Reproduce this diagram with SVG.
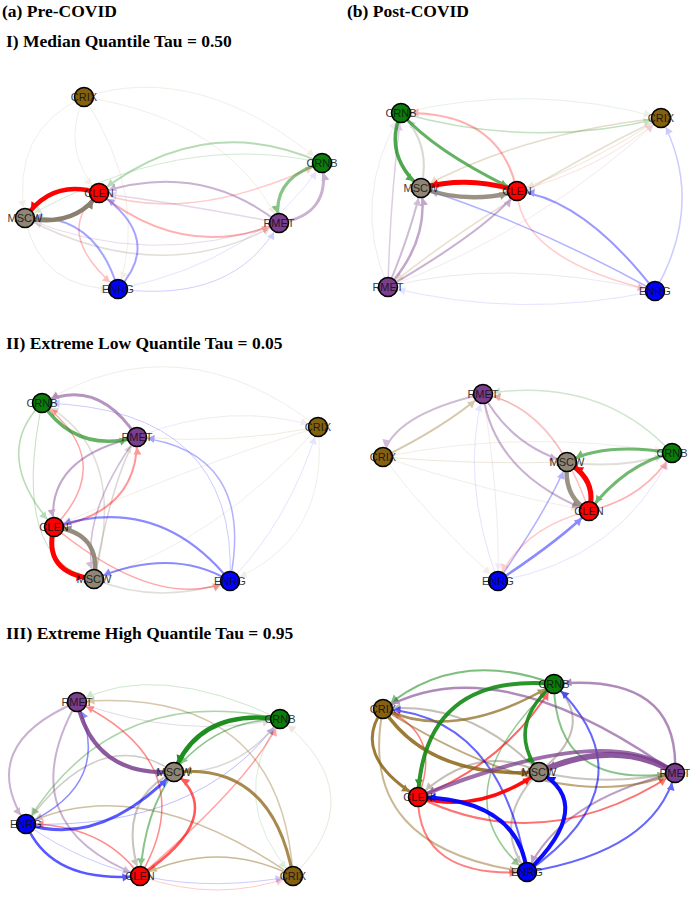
<svg xmlns="http://www.w3.org/2000/svg" width="690" height="897" viewBox="0 0 690 897">
<style>
.hd{font-family:"Liberation Serif","Times New Roman",serif;font-weight:bold;font-size:17.5px;fill:#000}
.lbl{font-family:"Liberation Sans",Arial,sans-serif;font-size:11px;text-anchor:middle;fill:#111;opacity:.85}
.n{stroke:#000;stroke-width:1.6}
.crix{fill:#85600f}.crnb{fill:#0b7d0b}.clen{fill:#ff0000}.mscw{fill:#8f8675}.rmet{fill:#7b3e8e}.enrg{fill:#0000ff}
.r,.g,.c,.m,.p,.b{fill:none}
.r{stroke:#ff0000;marker-end:url(#aR)}
.g{stroke:#138a13;marker-end:url(#aG)}
.c{stroke:#8b6414;marker-end:url(#aC)}
.m{stroke:#8a8070;marker-end:url(#aM)}
.p{stroke:#7b3e8e;marker-end:url(#aP)}
.b{stroke:#0000ff;marker-end:url(#aB)}
</style>
<defs>
<marker id="aR" markerUnits="userSpaceOnUse" markerWidth="12" markerHeight="12" refX="10.5" refY="0" orient="auto" overflow="visible"><path d="M-7,-4 L0,0 L-7,4 Z" fill="#ff0000"/></marker>
<marker id="aG" markerUnits="userSpaceOnUse" markerWidth="12" markerHeight="12" refX="10.5" refY="0" orient="auto" overflow="visible"><path d="M-7,-4 L0,0 L-7,4 Z" fill="#138a13"/></marker>
<marker id="aC" markerUnits="userSpaceOnUse" markerWidth="12" markerHeight="12" refX="10.5" refY="0" orient="auto" overflow="visible"><path d="M-7,-4 L0,0 L-7,4 Z" fill="#8b6414"/></marker>
<marker id="aM" markerUnits="userSpaceOnUse" markerWidth="12" markerHeight="12" refX="10.5" refY="0" orient="auto" overflow="visible"><path d="M-7,-4 L0,0 L-7,4 Z" fill="#8a8070"/></marker>
<marker id="aP" markerUnits="userSpaceOnUse" markerWidth="12" markerHeight="12" refX="10.5" refY="0" orient="auto" overflow="visible"><path d="M-7,-4 L0,0 L-7,4 Z" fill="#7b3e8e"/></marker>
<marker id="aB" markerUnits="userSpaceOnUse" markerWidth="12" markerHeight="12" refX="10.5" refY="0" orient="auto" overflow="visible"><path d="M-7,-4 L0,0 L-7,4 Z" fill="#0000ff"/></marker>
</defs>
<rect width="690" height="897" fill="#fff"/>

<g id="headers">
<text class="hd" x="2" y="17">(a) Pre-COVID</text>
<text class="hd" x="347" y="17">(b) Post-COVID</text>
<text class="hd" x="6" y="47">I) Median Quantile Tau = 0.50</text>
<text class="hd" x="6" y="349">II) Extreme Low Quantile Tau = 0.05</text>
<text class="hd" x="6" y="639">III) Extreme High Quantile Tau = 0.95</text>
</g>

<!-- Panel a-I -->
<g id="aI-edges">
<path class="c" d="M84,97 Q10,130 25,218" stroke-width="1" opacity="0.1"/>
<path class="c" d="M84,97 Q200,60 322,163" stroke-width="1" opacity="0.1"/>
<path class="c" d="M84,97 Q230,120 279,223" stroke-width="1" opacity="0.1"/>
<path class="c" d="M84,97 Q150,200 118,289" stroke-width="1" opacity="0.1"/>
<path class="c" d="M84,97 Q60,150 99,193" stroke-width="1" opacity="0.1"/>
<path class="b" d="M118,289 Q260,260 322,163" stroke-width="1" opacity="0.1"/>
<path class="m" d="M25,218 Q40,290 118,289" stroke-width="1" opacity="0.15"/>
<path class="b" d="M118,289 Q235,304 279,223" stroke-width="1" opacity="0.18"/>
<path class="p" d="M279,223 Q150,270 25,218" stroke-width="1" opacity="0.18"/>
<path class="m" d="M25,218 Q162,290 279,223" stroke-width="1.5" opacity="0.25"/>
<path class="r" d="M99,193 Q51,233 118,289" stroke-width="1.5" opacity="0.25"/>
<path class="r" d="M99,193 Q190,225 322,163" stroke-width="1.5" opacity="0.2"/>
<path class="r" d="M99,193 Q185,262 279,223" stroke-width="2" opacity="0.3"/>
<path class="g" d="M322,163 Q180,130 25,218" stroke-width="1" opacity="0.18"/>
<path class="g" d="M322,163 Q205,110 99,193" stroke-width="2" opacity="0.3"/>
<path class="p" d="M279,223 Q190,205 99,193" stroke-width="1.5" opacity="0.2"/>
<path class="p" d="M279,223 Q200,160 99,193" stroke-width="2" opacity="0.4"/>
<path class="b" d="M118,289 Q95,212 25,218" stroke-width="2" opacity="0.35"/>
<path class="b" d="M118,289 Q165,239 99,193" stroke-width="2" opacity="0.35"/>
<path class="g" d="M322,163 Q270,178 279,223" stroke-width="3" opacity="0.5"/>
<path class="p" d="M279,223 Q332,215 322,163" stroke-width="3" opacity="0.4"/>
<path class="m" d="M25,218 Q75,228 99,193" stroke-width="4.5" opacity="1"/>
<path class="r" d="M99,193 Q52,178 25,218" stroke-width="4.5" opacity="1"/>
</g>
<g id="aI-CRIX" transform="translate(84,97)"><circle class="n crix" r="9.5"/><text class="lbl" y="3.9">CRIX</text></g>
<g id="aI-CRNB" transform="translate(322,163)"><circle class="n crnb" r="9.5"/><text class="lbl" y="3.9">CRNB</text></g>
<g id="aI-CLEN" transform="translate(99,193)"><circle class="n clen" r="9.5"/><text class="lbl" y="3.9">CLEN</text></g>
<g id="aI-MSCW" transform="translate(25,218)"><circle class="n mscw" r="9.5"/><text class="lbl" y="3.9">MSCW</text></g>
<g id="aI-RMET" transform="translate(279,223)"><circle class="n rmet" r="9.5"/><text class="lbl" y="3.9">RMET</text></g>
<g id="aI-ENRG" transform="translate(118,289)"><circle class="n enrg" r="9.5"/><text class="lbl" y="3.9">ENRG</text></g>

<!-- Panel b-I -->
<g id="bI-edges">
<path class="g" d="M401,113 Q532,82 661,118" stroke-width="1" opacity="0.1"/>
<path class="p" d="M388,287 Q350,200 401,113" stroke-width="1" opacity="0.1"/>
<path class="b" d="M655,291 Q520,320 388,287" stroke-width="1" opacity="0.1"/>
<path class="p" d="M388,287 Q502,257 655,291" stroke-width="1" opacity="0.12"/>
<path class="p" d="M388,287 Q540,230 661,118" stroke-width="1" opacity="0.1"/>
<path class="r" d="M517,191 Q600,170 661,118" stroke-width="1" opacity="0.12"/>
<path class="c" d="M661,118 Q587,166 517,191" stroke-width="1" opacity="0.15"/>
<path class="c" d="M661,118 Q499,197 388,287" stroke-width="1.5" opacity="0.2"/>
<path class="c" d="M661,118 Q523,133 421,188" stroke-width="1.5" opacity="0.22"/>
<path class="b" d="M655,291 Q706,202 661,118" stroke-width="1.5" opacity="0.2"/>
<path class="g" d="M401,113 Q533,150 661,118" stroke-width="1.5" opacity="0.25"/>
<path class="r" d="M517,191 Q520,260 655,291" stroke-width="1.5" opacity="0.2"/>
<path class="b" d="M655,291 Q538,226 421,188" stroke-width="1.5" opacity="0.3"/>
<path class="b" d="M655,291 Q584,199 517,191" stroke-width="2" opacity="0.4"/>
<path class="p" d="M388,287 Q491,227 517,191" stroke-width="2" opacity="0.4"/>
<path class="p" d="M388,287 Q390,200 401,113" stroke-width="1.5" opacity="0.25"/>
<path class="m" d="M421,188 Q432,145 401,113" stroke-width="2" opacity="0.3"/>
<path class="p" d="M388,287 Q410,235 421,188" stroke-width="2" opacity="0.35"/>
<path class="p" d="M388,287 Q430,240 421,188" stroke-width="2.5" opacity="0.45"/>
<path class="r" d="M517,191 Q500,110 401,113" stroke-width="2" opacity="0.3"/>
<path class="g" d="M401,113 Q435,152 517,191" stroke-width="3" opacity="0.65"/>
<path class="g" d="M401,113 Q383,155 421,188" stroke-width="3.5" opacity="0.75"/>
<path class="m" d="M421,188 Q469,205 517,191" stroke-width="4.5" opacity="0.85"/>
<path class="r" d="M517,191 Q470,175 421,188" stroke-width="5" opacity="1"/>
</g>
<g id="bI-CRNB" transform="translate(401,113)"><circle class="n crnb" r="9.5"/><text class="lbl" y="3.9">CRNB</text></g>
<g id="bI-CRIX" transform="translate(661,118)"><circle class="n crix" r="9.5"/><text class="lbl" y="3.9">CRIX</text></g>
<g id="bI-MSCW" transform="translate(421,188)"><circle class="n mscw" r="9.5"/><text class="lbl" y="3.9">MSCW</text></g>
<g id="bI-CLEN" transform="translate(517,191)"><circle class="n clen" r="9.5"/><text class="lbl" y="3.9">CLEN</text></g>
<g id="bI-RMET" transform="translate(388,287)"><circle class="n rmet" r="9.5"/><text class="lbl" y="3.9">RMET</text></g>
<g id="bI-ENRG" transform="translate(655,291)"><circle class="n enrg" r="9.5"/><text class="lbl" y="3.9">ENRG</text></g>

<!-- Panel a-II -->
<g id="aII-edges">
<path class="c" d="M318,427 Q180,320 42,403" stroke-width="1" opacity="0.1"/>
<path class="c" d="M318,427 Q228,445 137,437" stroke-width="1" opacity="0.12"/>
<path class="c" d="M318,427 Q180,470 54,527" stroke-width="1" opacity="0.1"/>
<path class="c" d="M318,427 Q220,540 94,579" stroke-width="1" opacity="0.1"/>
<path class="c" d="M318,427 Q330,540 230,581" stroke-width="1" opacity="0.1"/>
<path class="b" d="M230,581 Q290,520 318,427" stroke-width="1" opacity="0.1"/>
<path class="p" d="M137,437 Q230,400 318,427" stroke-width="1" opacity="0.1"/>
<path class="b" d="M230,581 Q238,408 42,403" stroke-width="1" opacity="0.2"/>
<path class="b" d="M230,581 Q256,451 137,437" stroke-width="1.5" opacity="0.3"/>
<path class="m" d="M94,579 Q158,606 230,581" stroke-width="1.5" opacity="0.25"/>
<path class="r" d="M54,527 Q158,612 230,581" stroke-width="1.5" opacity="0.35"/>
<path class="m" d="M94,579 Q130,450 42,403" stroke-width="1.5" opacity="0.25"/>
<path class="m" d="M94,579 Q114,472 137,437" stroke-width="1.5" opacity="0.3"/>
<path class="g" d="M42,403 Q10,560 94,579" stroke-width="1" opacity="0.25"/>
<path class="g" d="M42,403 Q-10,455 54,527" stroke-width="1.5" opacity="0.3"/>
<path class="p" d="M137,437 Q78,518 94,579" stroke-width="1.5" opacity="0.35"/>
<path class="r" d="M54,527 Q118,461 42,403" stroke-width="1.5" opacity="0.35"/>
<path class="r" d="M54,527 Q139,512 137,437" stroke-width="2" opacity="0.4"/>
<path class="p" d="M137,437 Q44,458 54,527" stroke-width="2" opacity="0.45"/>
<path class="b" d="M230,581 Q158,492 54,527" stroke-width="2" opacity="0.45"/>
<path class="b" d="M230,581 Q172,546 94,579" stroke-width="2" opacity="0.45"/>
<path class="p" d="M137,437 Q97,376 42,403" stroke-width="3" opacity="0.55"/>
<path class="g" d="M42,403 Q76,454 137,437" stroke-width="3.5" opacity="0.65"/>
<path class="m" d="M94,579 Q102,533 54,527" stroke-width="4.5" opacity="0.9"/>
<path class="r" d="M54,527 Q42,573 94,579" stroke-width="5" opacity="1"/>
</g>
<g id="aII-CRNB" transform="translate(42,403)"><circle class="n crnb" r="9.5"/><text class="lbl" y="3.9">CRNB</text></g>
<g id="aII-RMET" transform="translate(137,437)"><circle class="n rmet" r="9.5"/><text class="lbl" y="3.9">RMET</text></g>
<g id="aII-CRIX" transform="translate(318,427)"><circle class="n crix" r="9.5"/><text class="lbl" y="3.9">CRIX</text></g>
<g id="aII-CLEN" transform="translate(54,527)"><circle class="n clen" r="9.5"/><text class="lbl" y="3.9">CLEN</text></g>
<g id="aII-MSCW" transform="translate(94,579)"><circle class="n mscw" r="9.5"/><text class="lbl" y="3.9">MSCW</text></g>
<g id="aII-ENRG" transform="translate(230,581)"><circle class="n enrg" r="9.5"/><text class="lbl" y="3.9">ENRG</text></g>

<!-- Panel b-II -->
<g id="bII-edges">
<path class="c" d="M383,457 Q527,428 672,453" stroke-width="1" opacity="0.1"/>
<path class="c" d="M383,457 Q480,490 589,511" stroke-width="1" opacity="0.1"/>
<path class="c" d="M383,457 Q430,520 498,581" stroke-width="1" opacity="0.1"/>
<path class="b" d="M498,581 Q620,560 672,453" stroke-width="1" opacity="0.1"/>
<path class="b" d="M498,581 Q460,480 483,394" stroke-width="1" opacity="0.1"/>
<path class="p" d="M483,394 Q500,500 498,581" stroke-width="1" opacity="0.1"/>
<path class="c" d="M383,457 Q478,465 567,462" stroke-width="1" opacity="0.15"/>
<path class="g" d="M672,453 Q600,375 483,394" stroke-width="1.5" opacity="0.2"/>
<path class="m" d="M567,462 Q540,405 483,394" stroke-width="1" opacity="0.2"/>
<path class="r" d="M589,511 Q554,408 483,394" stroke-width="1.5" opacity="0.25"/>
<path class="r" d="M589,511 Q521,528 498,581" stroke-width="1.5" opacity="0.2"/>
<path class="b" d="M498,581 Q551,504 567,462" stroke-width="1.5" opacity="0.3"/>
<path class="m" d="M567,462 Q620,470 672,453" stroke-width="2" opacity="0.25"/>
<path class="r" d="M589,511 Q645,498 672,453" stroke-width="1.5" opacity="0.3"/>
<path class="p" d="M483,394 Q391,415 383,457" stroke-width="2" opacity="0.35"/>
<path class="c" d="M383,457 Q443,428 483,394" stroke-width="2" opacity="0.35"/>
<path class="p" d="M483,394 Q511,446 567,462" stroke-width="2" opacity="0.4"/>
<path class="p" d="M483,394 Q494,474 589,511" stroke-width="2" opacity="0.4"/>
<path class="b" d="M498,581 Q560,540 589,511" stroke-width="2.5" opacity="0.45"/>
<path class="g" d="M672,453 Q605,442 567,462" stroke-width="3" opacity="0.6"/>
<path class="g" d="M672,453 Q625,464 589,511" stroke-width="3" opacity="0.6"/>
<path class="m" d="M567,462 Q563,497 589,511" stroke-width="4.5" opacity="0.85"/>
<path class="r" d="M589,511 Q598,480 567,462" stroke-width="5" opacity="1"/>
</g>
<g id="bII-RMET" transform="translate(483,394)"><circle class="n rmet" r="9.5"/><text class="lbl" y="3.9">RMET</text></g>
<g id="bII-CRIX" transform="translate(383,457)"><circle class="n crix" r="9.5"/><text class="lbl" y="3.9">CRIX</text></g>
<g id="bII-MSCW" transform="translate(567,462)"><circle class="n mscw" r="9.5"/><text class="lbl" y="3.9">MSCW</text></g>
<g id="bII-CRNB" transform="translate(672,453)"><circle class="n crnb" r="9.5"/><text class="lbl" y="3.9">CRNB</text></g>
<g id="bII-CLEN" transform="translate(589,511)"><circle class="n clen" r="9.5"/><text class="lbl" y="3.9">CLEN</text></g>
<g id="bII-ENRG" transform="translate(498,581)"><circle class="n enrg" r="9.5"/><text class="lbl" y="3.9">ENRG</text></g>

<!-- Panel a-III -->
<g id="aIII-edges">
<path class="c" d="M293,876 Q375,795 280,719" stroke-width="1" opacity="0.15"/>
<path class="g" d="M280,719 Q225,800 293,876" stroke-width="1" opacity="0.15"/>
<path class="r" d="M140,876 Q217,904 293,876" stroke-width="1" opacity="0.2"/>
<path class="b" d="M26,824 Q140,905 293,876" stroke-width="1" opacity="0.2"/>
<path class="g" d="M280,719 Q155,660 77,702" stroke-width="1" opacity="0.2"/>
<path class="p" d="M77,702 Q180,740 280,719" stroke-width="1" opacity="0.2"/>
<path class="b" d="M26,824 Q200,830 280,719" stroke-width="1" opacity="0.25"/>
<path class="m" d="M174,772 Q239,775 280,719" stroke-width="1.5" opacity="0.3"/>
<path class="c" d="M293,876 Q281,685 77,702" stroke-width="1.5" opacity="0.35"/>
<path class="c" d="M293,876 Q140,770 26,824" stroke-width="1.5" opacity="0.4"/>
<path class="c" d="M293,876 Q217,838 140,876" stroke-width="1.5" opacity="0.45"/>
<path class="m" d="M174,772 Q100,722 26,824" stroke-width="1.5" opacity="0.4"/>
<path class="g" d="M280,719 Q113,682 26,824" stroke-width="1.5" opacity="0.35"/>
<path class="r" d="M140,876 Q256,776 280,719" stroke-width="1.5" opacity="0.35"/>
<path class="r" d="M140,876 Q103,824 26,824" stroke-width="1.5" opacity="0.45"/>
<path class="r" d="M140,876 Q205,765 77,702" stroke-width="1.5" opacity="0.45"/>
<path class="b" d="M26,824 Q115,783 77,702" stroke-width="1.5" opacity="0.45"/>
<path class="p" d="M77,702 Q8,825 140,876" stroke-width="2" opacity="0.4"/>
<path class="p" d="M77,702 Q-25,745 26,824" stroke-width="2" opacity="0.4"/>
<path class="m" d="M174,772 Q115,800 140,876" stroke-width="2" opacity="0.45"/>
<path class="g" d="M174,772 Q145,810 140,876" stroke-width="2" opacity="0.5"/>
<path class="b" d="M26,824 Q51,884 140,876" stroke-width="2.5" opacity="0.65"/>
<path class="r" d="M140,876 Q229,816 174,772" stroke-width="2.5" opacity="0.65"/>
<path class="b" d="M26,824 Q100,848 174,772" stroke-width="3" opacity="0.65"/>
<path class="c" d="M293,876 Q272,762 174,772" stroke-width="3" opacity="0.75"/>
<path class="g" d="M280,719 Q215,720 174,772" stroke-width="1.5" opacity="0.5"/>
<path class="p" d="M77,702 Q94,777 174,772" stroke-width="4" opacity="0.85"/>
<path class="g" d="M280,719 Q199,708 174,772" stroke-width="4.5" opacity="0.95"/>
</g>
<g id="aIII-RMET" transform="translate(77,702)"><circle class="n rmet" r="9.5"/><text class="lbl" y="3.9">RMET</text></g>
<g id="aIII-CRNB" transform="translate(280,719)"><circle class="n crnb" r="9.5"/><text class="lbl" y="3.9">CRNB</text></g>
<g id="aIII-MSCW" transform="translate(174,772)"><circle class="n mscw" r="9.5"/><text class="lbl" y="3.9">MSCW</text></g>
<g id="aIII-ENRG" transform="translate(26,824)"><circle class="n enrg" r="9.5"/><text class="lbl" y="3.9">ENRG</text></g>
<g id="aIII-CLEN" transform="translate(140,876)"><circle class="n clen" r="9.5"/><text class="lbl" y="3.9">CLEN</text></g>
<g id="aIII-CRIX" transform="translate(293,876)"><circle class="n crix" r="9.5"/><text class="lbl" y="3.9">CRIX</text></g>

<!-- Panel b-III -->
<g id="bIII-edges">
<path class="r" d="M418,797 Q444,733 383,709" stroke-width="1.5" opacity="0.5"/>
<path class="g" d="M554,684 Q435,796 527,872" stroke-width="1.5" opacity="0.45"/>
<path class="p" d="M675,773 Q560,800 527,872" stroke-width="2" opacity="0.5"/>
<path class="g" d="M554,684 Q555,791 675,773" stroke-width="2" opacity="0.5"/>
<path class="m" d="M539,772 Q603,787 675,773" stroke-width="2" opacity="0.45"/>
<path class="m" d="M539,772 Q490,822 527,872" stroke-width="2" opacity="0.45"/>
<path class="m" d="M539,772 Q478,741 418,797" stroke-width="2" opacity="0.5"/>
<path class="m" d="M539,772 Q598,726 554,684" stroke-width="2" opacity="0.5"/>
<path class="m" d="M539,772 Q470,700 383,709" stroke-width="2" opacity="0.5"/>
<path class="c" d="M383,709 Q560,820 675,773" stroke-width="2" opacity="0.55"/>
<path class="c" d="M383,709 Q355,849 527,872" stroke-width="2" opacity="0.45"/>
<path class="r" d="M418,797 Q418,879 527,872" stroke-width="2" opacity="0.5"/>
<path class="r" d="M418,797 Q544,859 675,773" stroke-width="2" opacity="0.55"/>
<path class="r" d="M418,797 Q504,765 554,684" stroke-width="2" opacity="0.6"/>
<path class="b" d="M527,872 Q501,716 383,709" stroke-width="2" opacity="0.6"/>
<path class="b" d="M527,872 Q655,851 675,773" stroke-width="2" opacity="0.6"/>
<path class="b" d="M527,872 Q655,782 554,684" stroke-width="2" opacity="0.6"/>
<path class="p" d="M675,773 Q680,672 554,684" stroke-width="2.5" opacity="0.6"/>
<path class="p" d="M675,773 Q495,645 383,709" stroke-width="2.5" opacity="0.6"/>
<path class="g" d="M554,684 Q456,647 383,709" stroke-width="2" opacity="0.55"/>
<path class="c" d="M383,709 Q456,743 554,684" stroke-width="2.5" opacity="0.7"/>
<path class="c" d="M383,709 Q350,755 418,797" stroke-width="3" opacity="0.85"/>
<path class="c" d="M383,709 Q429,779 539,772" stroke-width="3.5" opacity="0.85"/>
<path class="p" d="M675,773 Q610,719 418,797" stroke-width="4" opacity="0.75"/>
<path class="r" d="M418,797 Q478,815 539,772" stroke-width="3.5" opacity="0.95"/>
<path class="b" d="M527,872 Q518,799 418,797" stroke-width="4" opacity="0.95"/>
<path class="b" d="M527,872 Q597,804 539,772" stroke-width="4" opacity="0.95"/>
<path class="g" d="M554,684 Q505,726 539,772" stroke-width="3.5" opacity="0.9"/>
<path class="g" d="M554,684 Q424,673 418,797" stroke-width="4" opacity="0.9"/>
<path class="p" d="M675,773 Q617,737 539,772" stroke-width="6" opacity="0.85"/>
</g>
<g id="bIII-CRNB" transform="translate(554,684)"><circle class="n crnb" r="9.5"/><text class="lbl" y="3.9">CRNB</text></g>
<g id="bIII-CRIX" transform="translate(383,709)"><circle class="n crix" r="9.5"/><text class="lbl" y="3.9">CRIX</text></g>
<g id="bIII-MSCW" transform="translate(539,772)"><circle class="n mscw" r="9.5"/><text class="lbl" y="3.9">MSCW</text></g>
<g id="bIII-RMET" transform="translate(675,773)"><circle class="n rmet" r="9.5"/><text class="lbl" y="3.9">RMET</text></g>
<g id="bIII-CLEN" transform="translate(418,797)"><circle class="n clen" r="9.5"/><text class="lbl" y="3.9">CLEN</text></g>
<g id="bIII-ENRG" transform="translate(527,872)"><circle class="n enrg" r="9.5"/><text class="lbl" y="3.9">ENRG</text></g>
</svg>
